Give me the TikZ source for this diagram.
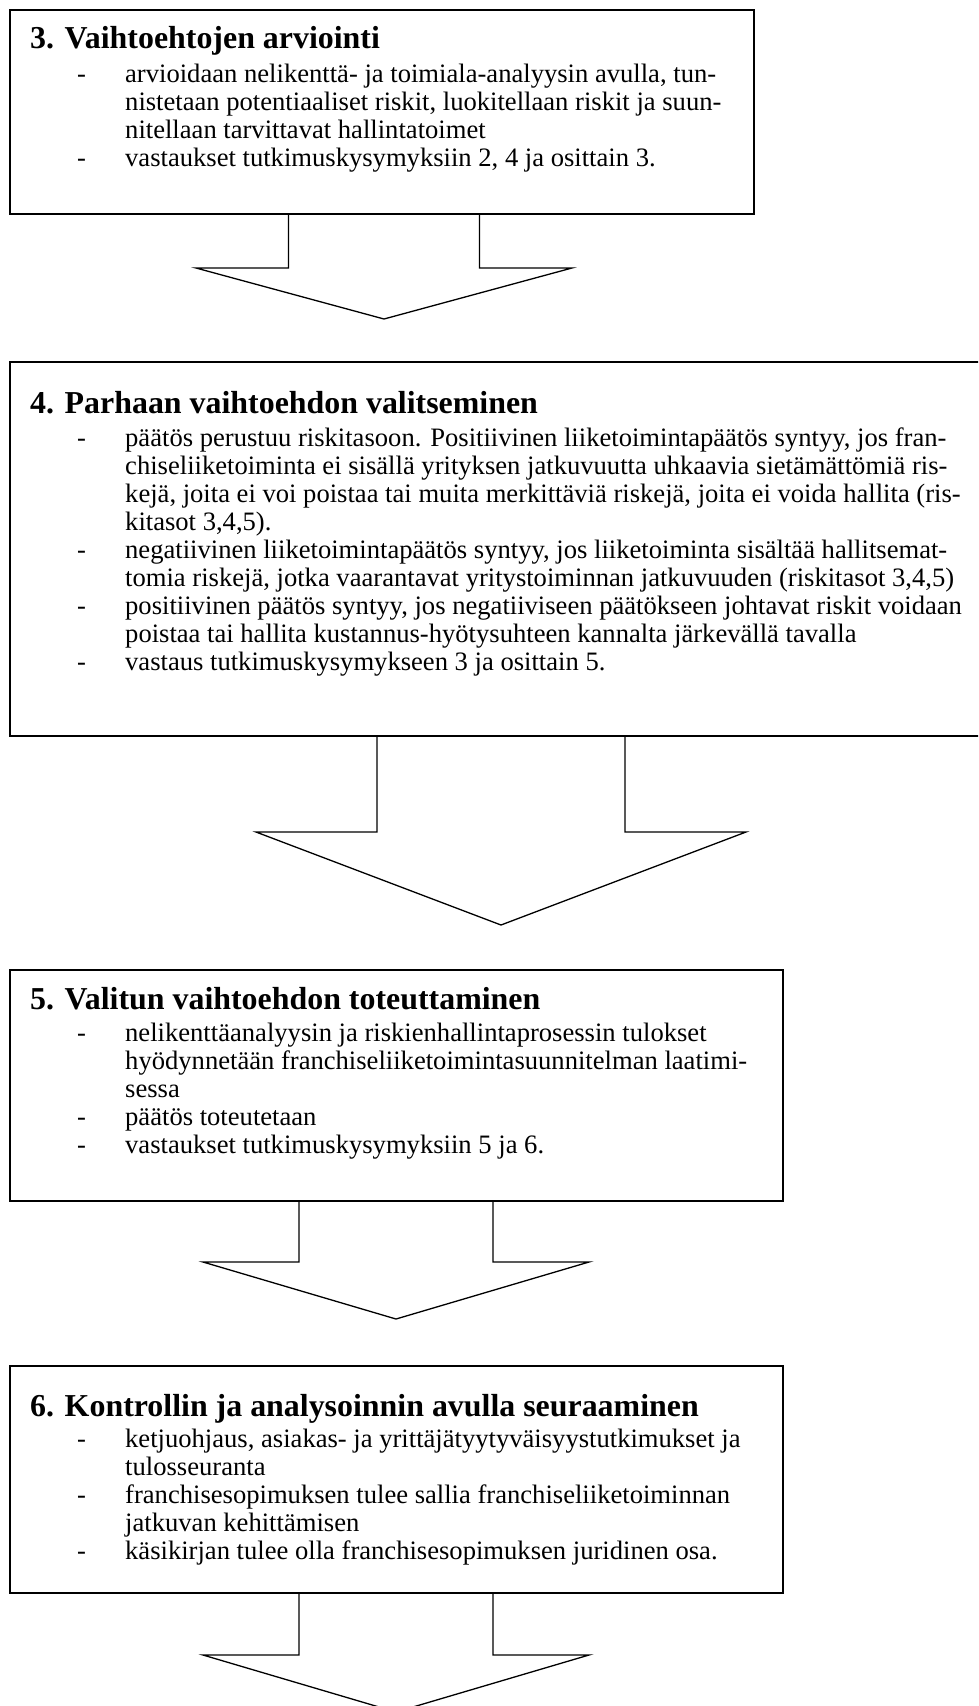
\documentclass[tikz,border=0pt]{standalone}
\usepackage{fontspec}
\setmainfont{Liberation Serif}
\usetikzlibrary{calc}
\newcommand{\bodyfont}{\fontsize{26.6}{28}\selectfont}
\newcommand{\headfont}{\fontsize{31.9}{36}\selectfont\bfseries}
% #1 source node, #2 x offset of arrow axis, #3 stem half width,
% #4 head half width, #5 stem length, #6 head length, #7 tip name
\newcommand{\blockarr}[7]{%
  \draw[arrline] ($(#1.south)+(#2-#3,0)$) -- ++(0,-#5) -- ++(#3-#4,0)
    -- ($(#1.south)+(#2,-#5-#6)$) coordinate (#7)
    -- ($(#1.south)+(#2+#4,-#5)$) -- ++(#3-#4,0)
    -- ($(#1.south)+(#2+#3,0)$);}
\begin{document}
\begin{tikzpicture}[x=1pt,y=1pt,
  box/.style={draw, line width=2pt, inner sep=0pt, anchor=north west},
  headtext/.style={anchor=base west, inner sep=0pt, font=\headfont},
  bodytext/.style={anchor=base west, inner sep=0pt, font=\bodyfont},
  arrline/.style={line width=1.3pt, line join=miter}]
\useasboundingbox (0,0) rectangle (978,-1706);
\fill[white] (0,0) rectangle (978,-1706);
\clip (0,0) rectangle (978,-1706);

% Box 3
\node[box, minimum width=744pt, minimum height=204pt] (b1) at (9,-9) {};
\node[headtext] (h1) at (30,-48) {3. Vaihtoehtojen arviointi};
\node[bodytext] (t1) at (77,-82) {\begin{tabular}[t]{@{}p{48pt}@{}l@{}}
- & arvioidaan nelikenttä- ja toimiala-analyysin avulla, tun-\\
  & nistetaan potentiaaliset riskit, luokitellaan riskit ja suun-\\
  & nitellaan tarvittavat hallintatoimet\\
- & vastaukset tutkimuskysymyksiin 2, 4 ja osittain 3.
\end{tabular}};

% Box 4
\node[box, minimum width=981pt, minimum height=374pt] (b2) at (9,-361) {};
\node[headtext] (h2) at (30,-413) {4. Parhaan vaihtoehdon valitseminen};
\node[bodytext] (t2) at (77,-446) {\begin{tabular}[t]{@{}p{48pt}@{}l@{}}
- & päätös perustuu riskitasoon. Positiivinen liiketoimintapäätös syntyy, jos fran-\\
  & chiseliiketoiminta ei sisällä yrityksen jatkuvuutta uhkaavia sietämättömiä ris-\\
  & kejä, joita ei voi poistaa tai muita merkittäviä riskejä, joita ei voida hallita (ris-\\
  & kitasot 3,4,5).\\
- & negatiivinen liiketoimintapäätös syntyy, jos liiketoiminta sisältää hallitsemat-\\
  & tomia riskejä, jotka vaarantavat yritystoiminnan jatkuvuuden (riskitasot 3,4,5)\\
- & positiivinen päätös syntyy, jos negatiiviseen päätökseen johtavat riskit voidaan\\
  & poistaa tai hallita kustannus-hyötysuhteen kannalta järkevällä tavalla\\
- & vastaus tutkimuskysymykseen 3 ja osittain 5.
\end{tabular}};

% Box 5
\node[box, minimum width=773pt, minimum height=231pt] (b5) at (9,-969) {};
\node[headtext] (h5) at (30,-1009) {5. Valitun vaihtoehdon toteuttaminen};
\node[bodytext] (t5) at (77,-1041) {\begin{tabular}[t]{@{}p{48pt}@{}l@{}}
- & nelikenttäanalyysin ja riskienhallintaprosessin tulokset\\
  & hyödynnetään franchiseliiketoimintasuunnitelman laatimi-\\
  & sessa\\
- & päätös toteutetaan\\
- & vastaukset tutkimuskysymyksiin 5 ja 6.
\end{tabular}};

% Box 6
\node[box, minimum width=773pt, minimum height=227pt] (b6) at (9,-1365) {};
\node[headtext] (h6) at (30,-1416) {6. Kontrollin ja analysoinnin avulla seuraaminen};
\node[bodytext] (t6) at (77,-1447) {\begin{tabular}[t]{@{}p{48pt}@{}l@{}}
- & ketjuohjaus, asiakas- ja yrittäjätyytyväisyystutkimukset ja\\
  & tulosseuranta\\
- & franchisesopimuksen tulee sallia franchiseliiketoiminnan\\
  & jatkuvan kehittämisen\\
- & käsikirjan tulee olla franchisesopimuksen juridinen osa.
\end{tabular}};

% Block arrows
\blockarr{b1}{2}{95.5}{188}{53}{51}{tip1}
\blockarr{b2}{0.5}{124}{245}{95}{93}{tip2}
\blockarr{b5}{-0.5}{97}{193}{60}{57}{tip3}
\blockarr{b6}{-0.5}{97}{193}{61}{57}{tip4}
\end{tikzpicture}
\end{document}
